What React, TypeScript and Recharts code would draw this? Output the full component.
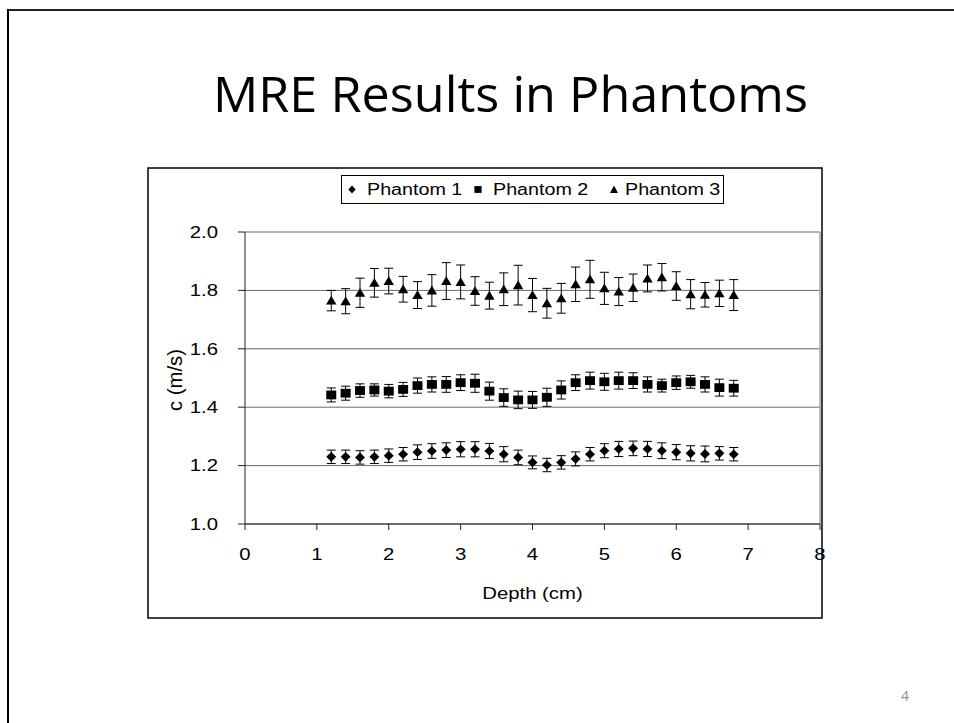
import React from 'react';
import { ScatterChart, Scatter, XAxis, YAxis, CartesianGrid, ErrorBar, Legend, ReferenceLine } from 'recharts';

const depths = [1.2, 1.4, 1.6, 1.8, 2.0, 2.2, 2.4, 2.6, 2.8, 3.0, 3.2, 3.4, 3.6, 3.8, 4.0, 4.2, 4.4, 4.6, 4.8, 5.0, 5.2, 5.4, 5.6, 5.8, 6.0, 6.2, 6.4, 6.6, 6.8];

const phantom1 = [1.230, 1.230, 1.228, 1.230, 1.234, 1.239, 1.246, 1.250, 1.253, 1.256, 1.256, 1.250, 1.239, 1.228, 1.211, 1.202, 1.211, 1.223, 1.239, 1.251, 1.257, 1.259, 1.257, 1.251, 1.246, 1.242, 1.240, 1.242, 1.239];
const phantom1Err = [0.023, 0.023, 0.023, 0.023, 0.023, 0.023, 0.025, 0.025, 0.025, 0.026, 0.026, 0.026, 0.026, 0.025, 0.022, 0.023, 0.023, 0.024, 0.023, 0.024, 0.026, 0.025, 0.026, 0.027, 0.026, 0.026, 0.027, 0.023, 0.023];

const phantom2 = [1.442, 1.448, 1.457, 1.459, 1.455, 1.461, 1.474, 1.478, 1.478, 1.484, 1.482, 1.455, 1.433, 1.425, 1.425, 1.434, 1.459, 1.484, 1.491, 1.487, 1.491, 1.491, 1.478, 1.474, 1.484, 1.487, 1.478, 1.467, 1.465];
const phantom2Err = [0.024, 0.024, 0.023, 0.021, 0.023, 0.024, 0.026, 0.026, 0.027, 0.027, 0.031, 0.031, 0.030, 0.030, 0.029, 0.031, 0.031, 0.027, 0.029, 0.029, 0.029, 0.027, 0.026, 0.022, 0.023, 0.022, 0.026, 0.029, 0.027];

const phantom3 = [1.765, 1.763, 1.792, 1.826, 1.832, 1.804, 1.784, 1.800, 1.832, 1.829, 1.798, 1.782, 1.804, 1.818, 1.784, 1.756, 1.773, 1.821, 1.838, 1.807, 1.796, 1.809, 1.841, 1.845, 1.815, 1.787, 1.785, 1.790, 1.784];
const phantom3Err = [0.035, 0.043, 0.050, 0.049, 0.044, 0.044, 0.046, 0.054, 0.063, 0.058, 0.049, 0.046, 0.056, 0.068, 0.057, 0.051, 0.051, 0.059, 0.065, 0.055, 0.048, 0.047, 0.046, 0.047, 0.049, 0.050, 0.042, 0.045, 0.053];

const xTicks = [0, 1, 2, 3, 4, 5, 6, 7, 8];
const yTicks = [1.0, 1.2, 1.4, 1.6, 1.8, 2.0];
const seriesNames = ['Phantom 1', 'Phantom 2', 'Phantom 3'];
const titleText = 'MRE Results in Phantoms';
const xLabel = 'Depth (cm)';
const yLabel = 'c (m/s)';
const pageNumber = '4';

const build = (vals: number[], errs: number[]) => depths.map((x, i) => ({ x, y: vals[i], err: errs[i] }));
const data1 = build(phantom1, phantom1Err);
const data2 = build(phantom2, phantom2Err);
const data3 = build(phantom3, phantom3Err);

const FONT = '"Liberation Sans", Arial, sans-serif';
const SX = 1.27;

const Diamond = (p: any) => {
  const { cx, cy } = p;
  if (cx == null || cy == null) return null;
  return <polygon points={`${cx},${cy - 4.8} ${cx + 5},${cy} ${cx},${cy + 4.8} ${cx - 5},${cy}`} fill="#000" />;
};
const Square = (p: any) => {
  const { cx, cy } = p;
  if (cx == null || cy == null) return null;
  return <rect x={cx - 5} y={cy - 4.4} width={10} height={8.8} fill="#000" />;
};
const Triangle = (p: any) => {
  const { cx, cy } = p;
  if (cx == null || cy == null) return null;
  return <polygon points={`${cx},${cy - 4.8} ${cx + 5.2},${cy + 4} ${cx - 5.2},${cy + 4}`} fill="#000" />;
};

const YTick = (p: any) => {
  const { x, y, payload } = p;
  return (
    <g transform={`translate(${x},${y})`}>
      <text transform={`scale(${SX},1)`} textAnchor="end" dy="0.36em" fontSize={16} fontFamily={FONT} fill="#000">
        {Number(payload.value).toFixed(1)}
      </text>
    </g>
  );
};
const XTick = (p: any) => {
  const { x, y, payload } = p;
  return (
    <g transform={`translate(${x},${y})`}>
      <text transform={`scale(${SX},1)`} textAnchor="middle" dy="0.71em" fontSize={16} fontFamily={FONT} fill="#000">
        {payload.value}
      </text>
    </g>
  );
};

const LegendContent = () => {
  const items = [
    { name: seriesNames[0], mx: 11, tx: 26, mark: (cx: number, cy: number) => <polygon points={`${cx},${cy - 4} ${cx + 3.6},${cy} ${cx},${cy + 4} ${cx - 3.6},${cy}`} fill="#000" /> },
    { name: seriesNames[1], mx: 137, tx: 152, mark: (cx: number, cy: number) => <rect x={cx - 3.6} y={cy - 3.4} width={7.2} height={6.8} fill="#000" /> },
    { name: seriesNames[2], mx: 273, tx: 284, mark: (cx: number, cy: number) => <polygon points={`${cx},${cy - 4} ${cx + 4},${cy + 3.4} ${cx - 4},${cy + 3.4}`} fill="#000" /> },
  ];
  return (
    <svg width={383} height={29} style={{ display: 'block' }}>
      <rect x={0.5} y={0.5} width={382} height={28} fill="#fff" stroke="#000" strokeWidth={1} />
      {items.map((it) => (
        <g key={it.name}>
          {it.mark(it.mx, 14.5)}
          <g transform={`translate(${it.tx},14.5)`}>
            <text transform={`scale(${SX * 0.97},1)`} dy="0.36em" fontSize={16} fontFamily={FONT} fill="#000">{it.name}</text>
          </g>
        </g>
      ))}
    </svg>
  );
};

export default function App() {
  return (
    <div style={{ position: 'absolute', left: 0, top: 0, width: 954, height: 723, background: '#fff', overflow: 'hidden' }}>
      <svg width={954} height={723} style={{ position: 'absolute', left: 0, top: 0 }}>
        <line x1={7} y1={10} x2={954} y2={10} stroke="#222" strokeWidth={2} />
        <line x1={8} y1={9} x2={8} y2={723} stroke="#000" strokeWidth={2} />
        <text x={213} y={112} fontSize={49} fontFamily='"Open Sans", sans-serif' fill="#000" textLength={595} lengthAdjust="spacingAndGlyphs">{titleText}</text>
        <text x={905} y={701} textAnchor="middle" fontSize={14} fontFamily='"Open Sans", sans-serif' fill="#8c8c8c">{pageNumber}</text>
        <rect x={148} y={168} width={674} height={450} fill="#fff" stroke="#000" strokeWidth={1.5} />
      </svg>
      <div style={{ position: 'absolute', left: 148, top: 168 }}>
        <ScatterChart width={694} height={450} margin={{ top: 64, right: 22, bottom: 34, left: 0 }}>
          <CartesianGrid horizontal vertical={false} stroke="#6a6a6a" strokeWidth={1} />
          <XAxis
            type="number"
            dataKey="x"
            domain={[0, 8]}
            ticks={xTicks}
            interval={0}
            height={60}
            tickSize={6}
            tickMargin={19}
            stroke="#222"
            tick={<XTick />}
            label={{
              content: (props: any) => {
                const vb = props.viewBox || {};
                const cx = vb.x + vb.width / 2;
                const cy = vb.y + 69;
                return (
                  <g transform={`translate(${cx},${cy})`}>
                    <text transform={`scale(${SX},1)`} textAnchor="middle" dy="0.36em" fontSize={16} fontFamily={FONT} fill="#000">{xLabel}</text>
                  </g>
                );
              },
            }}
          />
          <YAxis
            type="number"
            dataKey="y"
            domain={[1, 2]}
            ticks={yTicks}
            interval={0}
            width={97}
            tickSize={7}
            tickMargin={20}
            stroke="#222"
            tick={<YTick />}
            label={{
              content: (props: any) => {
                const vb = props.viewBox || {};
                const cx = vb.x + 27;
                const cy = vb.y + vb.height / 2 + 2;
                return (
                  <g transform={`translate(${cx},${cy})`}>
                    <text transform={`scale(${SX},1) rotate(-90)`} textAnchor="middle" dy="0.36em" fontSize={16} fontFamily={FONT} fill="#000" textLength={62} lengthAdjust="spacingAndGlyphs">{yLabel}</text>
                  </g>
                );
              },
            }}
          />
          <ReferenceLine x={8} stroke="#a0a0a0" strokeWidth={1.5} />
          <Legend
            layout="horizontal"
            verticalAlign="middle"
            align="center"
            content={<LegendContent />}
            wrapperStyle={{ position: 'absolute', left: 193, top: 7, width: 383, height: 29 }}
          />
          <Scatter name={seriesNames[0]} data={data1} dataKey="y" fill="#000" shape={Diamond} isAnimationActive={false}>
            <ErrorBar dataKey="err" direction="y" width={4.5} stroke="#000" strokeWidth={1} isAnimationActive={false} />
          </Scatter>
          <Scatter name={seriesNames[1]} data={data2} dataKey="y" fill="#000" shape={Square} isAnimationActive={false}>
            <ErrorBar dataKey="err" direction="y" width={4.5} stroke="#000" strokeWidth={1} isAnimationActive={false} />
          </Scatter>
          <Scatter name={seriesNames[2]} data={data3} dataKey="y" fill="#000" shape={Triangle} isAnimationActive={false}>
            <ErrorBar dataKey="err" direction="y" width={4.5} stroke="#000" strokeWidth={1} isAnimationActive={false} />
          </Scatter>
        </ScatterChart>
      </div>
    </div>
  );
}
